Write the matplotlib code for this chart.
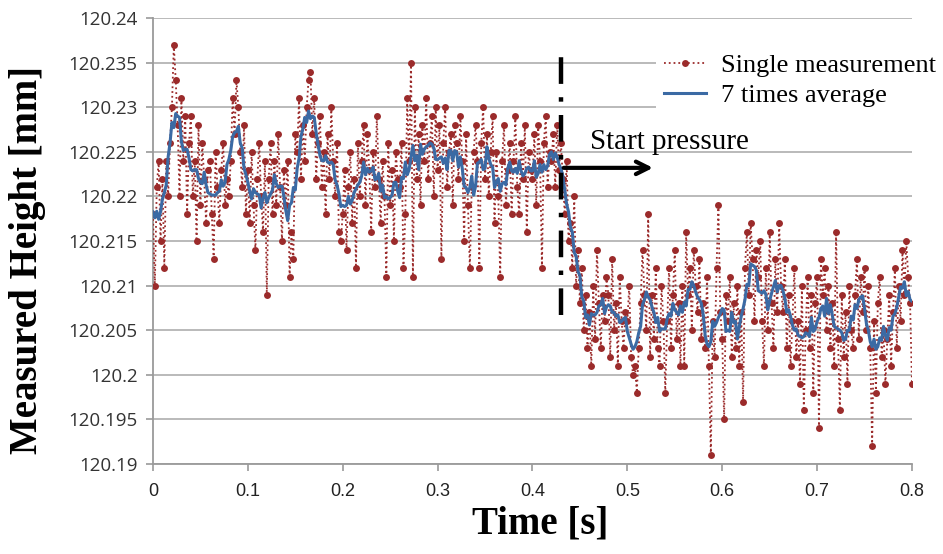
import numpy as np
import pandas as pd
import matplotlib
matplotlib.use("Agg")
import matplotlib.pyplot as plt

# time axis, 2 ms steps, 0 .. 0.8 s
t_start, t_step, n_pts = 0.0, 0.002, 401
base_mm = 120.2

single_um = [
    18, 10, 21, 24, 15, 22, 12, 24, 20, 26,
    30, 37, 33, 28, 20, 31, 24, 29, 18, 26,
    29, 20, 24, 15, 28, 19, 26, 22, 17, 23,
    24, 18, 13, 25, 21, 17, 23, 26, 19, 22,
    20, 24, 31, 27, 33, 30, 25, 21, 28, 18,
    23, 17, 25, 19, 14, 22, 26, 20, 16, 24,
    9, 22, 26, 18, 24, 19, 27, 21, 15, 23,
    19, 24, 11, 16, 13, 27, 25, 31, 22, 28,
    24, 30, 33, 34, 27, 31, 22, 26, 29, 21,
    25, 18, 27, 22, 30, 24, 20, 26, 16, 15,
    18, 23, 14, 21, 25, 17, 22, 12, 26, 20,
    24, 28, 19, 27, 23, 16, 25, 21, 29, 22,
    17, 24, 20, 11, 26, 19, 23, 15, 25, 22,
    21, 26, 12, 18, 31, 24, 35, 11, 30, 22,
    27, 19, 28, 24, 31, 22, 26, 29, 20, 30,
    23, 28, 13, 26, 30, 21, 25, 27, 19, 28,
    26, 22, 29, 24, 15, 27, 19, 12, 21, 25,
    28, 24, 12, 26, 30, 22, 27, 20, 25, 29,
    17, 25, 20, 11, 24, 28, 19, 23, 26, 18,
    24, 29, 21, 18, 26, 22, 28, 16, 25, 23,
    22, 27, 19, 28, 24, 12, 26, 29, 21, 25,
    24, 27, 21, 28, 23, 26, 22, 18, 24, 15,
    17, 12, 20, 10, 14, 8, 12, 5, 9, 3,
    7, 1, 10, 4, 14, 8, 3, 9, 6, 11,
    9, 2, 13, 5, 8, 1, 11, 6, 3, 7,
    6, 10, 2, 0, 1, -2, 3, 8, 14, 9,
    5, 18, 2, 9, 4, 12, 3, 1, 10, 6,
    -2, 6, 12, 3, 9, 14, 4, 8, 1, 10,
    1, 16, 9, 12, 5, 14, 10, 7, 13, 4,
    8, 3, 11, 1, -9, 6, 2, 12, 19, 7,
    4, -5, 9, 6, 11, 2, 8, 3, 10, 1,
    7, -3, 12, 16, 9, 17, 13, 6, 14, 11,
    15, 6, 1, 12, 5, 16, 8, 3, 13, 7,
    17, 10, 7, 13, 3, 9, 1, 6, 12, 2,
    6, -1, 10, -4, 5, 11, 3, 9, -2, 8,
    11, -6, 13, 9, 12, 5, 10, 3, 8, 1,
    16, 4, -4, 9, 2, 7, -1, 10, 5, 3,
    9, 13, 4, 11, 7, 12, 5, 10, 3, -8,
    6, -2, 8, 11, 2, 5, -1, 4, 9, 1,
    7, 12, 3, 10, 6, 14, 9, 15, 11, 8, -1,
]

y_ticks = [120.19, 120.195, 120.2, 120.205, 120.21, 120.215, 120.22,
           120.225, 120.23, 120.235, 120.24]
y_labels = ["120.19", "120.195", "120.2", "120.205", "120.21", "120.215",
            "120.22", "120.225", "120.23", "120.235", "120.24"]
x_ticks = [0, 0.1, 0.2, 0.3, 0.4, 0.5, 0.6, 0.7, 0.8]
x_labels = ["0", "0.1", "0.2", "0.3", "0.4", "0.5", "0.6", "0.7", "0.8"]

t_press = 0.43

time = t_start + t_step * np.arange(n_pts)
single = base_mm + np.array(single_um) / 1000.0
avg7 = pd.Series(single).rolling(7, center=True, min_periods=1).mean().values

fig = plt.figure(figsize=(9.43, 5.54), dpi=100)
ax = fig.add_axes([0.1622, 0.1625, 0.8049, 0.805])

red = "#9b2b2b"
blue = "#3b6aa4"

ax.plot(time, single, linestyle=":", color=red, lw=1.3, marker="o",
        markersize=5.0, markeredgewidth=0, label="Single measurement", zorder=3)
ax.plot(time, avg7, color=blue, lw=2.2, label="7 times average", zorder=4)

ax.set_xlim(0, 0.8)
ax.set_ylim(120.19, 120.24)
ax.set_yticks(y_ticks)
ax.set_yticklabels(y_labels)
ax.set_xticks(x_ticks)
ax.set_xticklabels(x_labels)

for lab in ax.get_yticklabels():
    lab.set_family(["Open Sans", "DejaVu Sans"])
    lab.set_fontsize(13.5)
    lab.set_color("#333333")
for lab in ax.get_xticklabels():
    lab.set_family(["Liberation Sans Narrow", "Liberation Sans", "DejaVu Sans"])
    lab.set_fontsize(13)
    lab.set_color("#222222")

ax.grid(axis="y", color="#b4b4b4", lw=1.3)
ax.set_axisbelow(True)
for s in ["top", "right"]:
    ax.spines[s].set_visible(False)
for s in ["left", "bottom"]:
    ax.spines[s].set_color("#9a9a9a")
    ax.spines[s].set_linewidth(1.3)
ax.tick_params(axis="both", direction="out", length=5, color="#9a9a9a", width=1.2)
ax.tick_params(axis="y", pad=6)
ax.tick_params(axis="x", pad=9)

ax.set_xlabel("Time [s]", family="Liberation Serif", fontweight="bold",
              fontsize=28)
ax.xaxis.set_label_coords(0.51, -0.094)
ax.set_ylabel("Measured Height [mm]", family="Liberation Serif",
              fontweight="bold", fontsize=28)
ax.yaxis.set_label_coords(-0.165, 0.457)
ax.yaxis.label.set_va("center")

# start of pressure marker
ax.plot([t_press, t_press], [120.2067, 120.2358], color="black", lw=3.2,
        linestyle=(0, (6, 3, 1, 3)), zorder=5)
ax.annotate("", xy=(0.53, 120.2232), xytext=(t_press, 120.2232),
            arrowprops=dict(arrowstyle="->,head_length=0.9,head_width=0.45",
                            color="black", lw=3), zorder=6)
ax.text(0.461, 120.2261, "Start pressure", family="Liberation Serif",
        fontsize=21, va="center", ha="left", zorder=6)

leg = ax.legend(loc="upper left", bbox_to_anchor=(0.663, 0.937),
                prop={"family": "Liberation Serif", "size": 19},
                frameon=True, fancybox=False, framealpha=1.0,
                handlelength=1.6, handletextpad=0.55, labelspacing=0.22,
                borderpad=0.3, borderaxespad=0.0)
leg.get_frame().set_edgecolor("none")
leg.get_frame().set_facecolor("white")
leg.set_zorder(10)

fig.savefig("out.png", dpi=100)
